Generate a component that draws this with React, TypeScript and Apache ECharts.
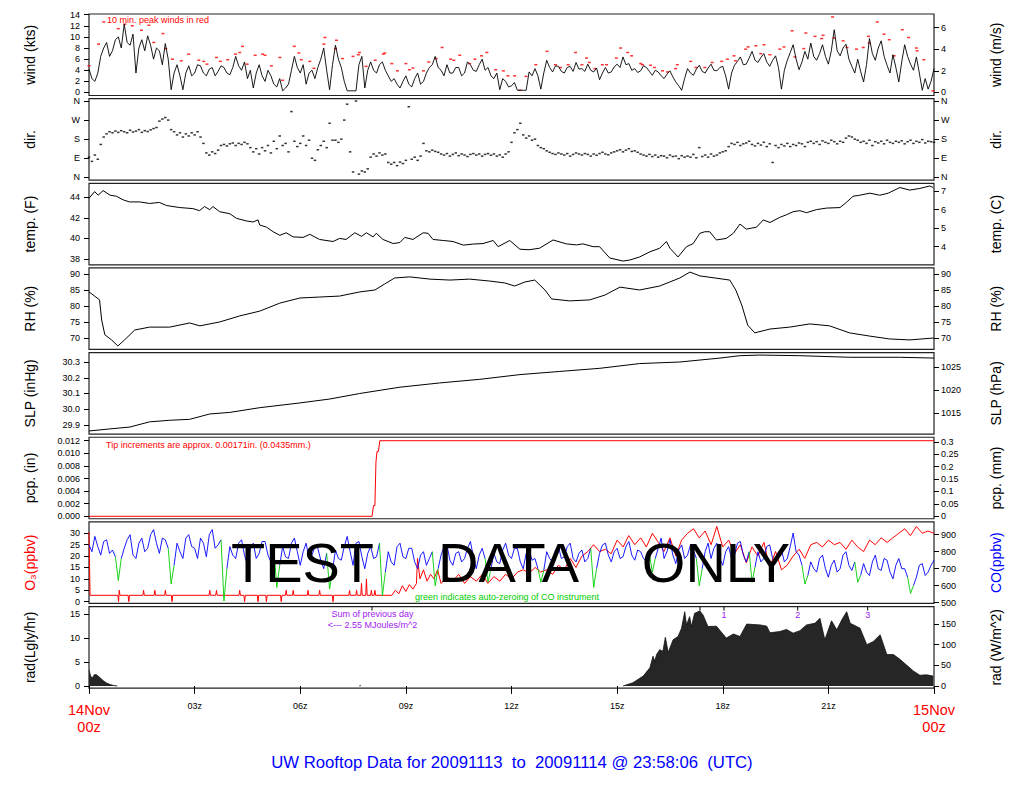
import React, { useEffect, useRef } from "react";
import * as echarts from "echarts";

const FONT = '"Liberation Sans", Arial, Helvetica, sans-serif';

// ---- x axis (hours since 14Nov 00z) ----
const hourTicks = [0, 3, 6, 9, 12, 15, 18, 21, 24];
const startDayLabel = "14Nov";
const endDayLabel = "15Nov";

// ---- wind speed (kts), 5-minute samples from 00z (12 per hour) ----
const windKts = [
  4.2, 2.5, 2.0, 3.5, 6.5, 8.0, 9.0, 6.5, 7.5, 9.5, 10.0, 8.0,
  12.3, 9.0, 8.5, 10.5, 3.5, 8.0, 9.5, 7.5, 10.2, 8.5, 6.0, 8.0,
  7.5, 5.0, 8.8, 6.0, 0.5, 3.5, 5.0, 3.0, 0.5, 3.5, 4.8, 3.0,
  3.5, 5.0, 4.8, 3.5, 3.0, 4.2, 4.5, 3.0, 3.8, 4.8, 4.5, 3.5,
  3.2, 4.5, 6.5, 4.8, 4.0, 5.5, 2.5, 4.0, 0.8, 3.5, 5.0, 3.0,
  2.0, 4.0, 3.0, 1.5, 1.0, 2.5, 0.3, 0.8, 1.5, 4.0, 6.5, 4.5,
  3.5, 5.0, 1.5, 3.5, 4.0, 2.5, 4.5, 6.0, 8.0, 4.0, 0.5, 5.0,
  8.5, 6.0, 4.5, 2.0, 0.3, 0.3, 0.3, 0.3, 5.0, 6.5, 0.8, 4.0,
  5.5, 4.0, 3.5, 5.0, 5.5, 4.0, 3.0, 2.0, 2.5, 1.5, 0.8, 2.0,
  3.0, 1.5, 1.0, 2.5, 3.5, 1.5, 2.0, 3.5, 4.5, 5.0, 6.5, 4.5,
  4.0, 3.0, 5.0, 3.5, 3.5, 4.5, 4.5, 3.0, 3.5, 5.5, 5.0, 4.0,
  3.8, 5.0, 6.0, 4.0, 4.5, 3.0, 2.5, 3.5, 0.5, 2.5, 2.0, 1.0,
  1.2, 1.8, 0.4, 0.4, 0.4, 0.4, 3.7, 3.0, 4.3, 3.0, 0.6, 3.5,
  5.8, 4.5, 3.7, 4.8, 4.7, 3.8, 3.5, 4.5, 4.7, 3.8, 5.4, 4.2,
  4.3, 3.8, 5.1, 4.0, 3.7, 4.4, 2.3, 3.5, 4.5, 3.5, 3.7, 4.6,
  5.1, 4.5, 6.4, 5.0, 5.2, 4.0, 4.3, 3.6, 3.9, 4.8, 4.5, 3.8,
  3.1, 4.0, 3.7, 3.0, 2.5, 3.3, 3.9, 2.8, 1.9, 1.2, 0.4, 2.5,
  4.3, 3.5, 3.1, 4.2, 4.9, 3.8, 3.5, 4.4, 5.1, 4.0, 3.9, 4.5,
  4.7, 3.0, 0.6, 3.5, 4.9, 5.6, 6.4, 5.0, 5.1, 6.2, 7.4, 5.8,
  5.4, 6.3, 7.0, 5.5, 4.7, 5.8, 6.6, 4.5, 0.6, 4.0, 5.8, 7.2,
  8.6, 6.0, 4.1, 5.5, 7.4, 6.0, 8.9, 6.5, 5.8, 7.0, 8.6, 6.5,
  5.1, 7.5, 11.3, 7.5, 6.6, 8.0, 8.7, 6.0, 4.7, 3.5, 6.0, 3.8,
  1.9, 5.0, 9.7, 7.0, 5.8, 8.0, 9.3, 6.5, 4.9, 3.5, 6.8, 4.5,
  1.9, 5.5, 8.6, 6.5, 5.1, 4.0, 6.4, 3.5, 0.4, 2.5, 0.6, 2.0,
  4.3,
];

// ---- 10 min peak winds (red dashes) ----
const peakHours = [
  0.0, 0.27, 0.42, 0.83, 1.02, 1.23, 1.49, 1.70, 1.84, 2.1, 2.18, 2.37, 2.62, 2.83, 3.12, 3.26, 3.35,
  3.62, 3.73, 3.94, 4.16, 4.28, 4.36, 4.49, 4.72, 4.93, 5.0, 5.18, 5.42, 5.5, 5.83, 5.96, 6.03, 6.27,
  6.39, 6.67, 6.7, 7.0, 7.03, 7.2, 7.5, 7.65, 7.68, 7.87, 8.13, 8.36, 8.4, 8.6, 8.76, 9.0, 9.1, 9.2,
  9.5, 9.65, 9.86, 10.03, 10.27, 10.36, 10.53, 10.81, 10.96, 11.15, 11.3, 11.55, 11.77, 11.9, 12.09,
  12.24, 12.41, 12.69, 13.01, 13.25, 13.39, 13.61, 13.82, 14.0, 14.13, 14.21, 14.37, 14.58, 14.7,
  14.98, 15.1, 15.3, 15.41, 15.67, 15.72, 15.95, 16.06, 16.29, 16.43, 16.66, 16.71, 17.09, 17.24,
  17.49, 17.7, 17.97, 18.13, 18.32, 18.36, 18.65, 18.72, 18.94, 19.08, 19.17, 19.34, 19.62, 19.74,
  19.97, 20.05, 20.3, 20.36, 20.62, 20.81, 20.85, 21.12, 21.16, 21.42, 21.53, 21.8, 21.99, 22.14,
  22.16, 22.39, 22.58, 22.73, 22.87, 23.1, 23.28, 23.5, 23.52, 23.71, 23.97,
];
const peakKts = [
  4.8, 8.7, 12.7, 11.5, 12.3, 12.0, 11.2, 12.1, 9.0, 10.6, 7.9, 6.0, 5.7, 6.9, 5.8, 5.6, 5.1,
  6.3, 5.6, 5.9, 6.9, 7.2, 8.3, 5.1, 6.7, 6.9, 6.7, 4.8, 6.3, 2.2, 8.3, 7.1, 5.9, 5.6,
  4.35, 8.7, 9.9, 7.9, 9.4, 6.1, 6.5, 6.8, 7.2, 4.7, 5.8, 6.9, 7.1, 5.2, 3.9, 5.2, 4.1, 4.4,
  3.9, 5.5, 6.1, 8.1, 6.0, 5.8, 6.7, 5.2, 6.0, 6.6, 7.2, 4.1, 3.9, 3.0, 3.0,
  0.4, 2.9, 5.0, 7.4, 5.0, 4.5, 5.0, 7.2, 5.0, 6.2, 5.4, 4.3, 5.0, 5.0,
  6.2, 8.0, 7.2, 6.6, 5.2, 5.0, 4.9, 4.5, 3.9, 3.7, 4.3, 5.0, 5.6, 4.5,
  4.5, 5.4, 5.6, 6.0, 6.6, 5.7, 7.8, 8.2, 8.4, 7.0, 8.6, 6.8, 7.8, 8.2,
  11.1, 6.4, 7.9, 10.7, 10.1, 9.7, 10.3, 13.6, 9.8, 9.3, 8.1, 7.8, 8.1, 10.1,
  8.9, 12.7, 10.5, 9.5, 6.6, 11.3, 9.9, 8.0, 7.5, 5.9, 0.3,
];

// ---- wind direction (deg, 0=N 90=E 180=S 270=W), 5-minute samples ----
const dirDeg = [
  95, 75, 105, 85, 155, 190, 205, 215, 210, 218, 212, 220,
  215, 210, 222, 214, 218, 225, 212, 220, 216, 224, 230, 235,
  265, 275, 282, 270, 225, 215, 200, 210, 190, 205, 195, 210,
  200, 215, 190, 160, 115, 105, 120, 112, 128, 150, 155, 148,
  158, 162, 150, 160, 155, 165, 158, 140, 120, 135, 110, 140,
  125, 150, 115, 170, 135, 195, 150, 160, 120, 310, 170, 145,
  160, 195, 150, 175, 90, 80, 130, 150, 170, 140, 255, 175,
  175, 165, 180, 270, 345, 120, 25, 360, 15, 30, 25, 40,
  95, 110, 100, 115, 105, 110, 70, 62, 70, 55, 72, 65,
  80, 333, 85, 95, 80, 100, 160, 125, 120, 128, 122, 118,
  110, 105, 112, 100, 108, 115, 102, 110, 105, 98, 108, 112,
  105, 110, 100, 108, 112, 104, 110, 100, 106, 95, 110, 120,
  165, 210, 225, 255, 200, 185, 195, 175, 180, 150, 140, 135,
  125, 118, 112, 108, 115, 110, 105, 112, 100, 108, 115, 110,
  105, 112, 108, 100, 110, 104, 112, 118, 110, 106, 115, 120,
  125, 130, 120, 128, 135, 122, 125, 118, 110, 105, 100, 108,
  98, 105, 95, 102, 100, 92, 105, 98, 100, 88, 102, 95,
  100, 95, 108, 92, 140, 98, 105, 95, 110, 100, 105, 115,
  120, 125, 145, 160, 155, 165, 150, 158, 162, 170, 155, 148,
  160, 152, 165, 145, 158, 70, 150, 140, 155, 148, 160, 145,
  155, 150, 162, 158, 145, 165, 170, 160, 168, 155, 172, 165,
  160, 175, 168, 158, 170, 165, 185, 195, 190, 180, 175, 165,
  170, 160, 175, 150, 168, 162, 170, 158, 175, 165, 160, 170,
  165, 172, 158, 168, 175, 160, 170, 165, 178, 162, 170, 168,
  165,
];
const dirTickLabels = ["N", "E", "S", "W", "N"];

// ---- temperature (F) ----
const tempHours = [
  0, 0.16, 0.26, 0.4, 0.6, 0.78, 0.97, 1.15, 1.44, 1.72, 2.0, 2.2, 2.58, 2.95, 3.14, 3.28, 3.43, 3.52,
  3.71, 4.0, 4.19, 4.47, 4.66, 4.8, 4.85, 5.04, 5.23, 5.42, 5.6, 5.8, 6.08, 6.27, 6.55, 6.93, 7.12,
  7.3, 7.55, 7.74, 7.88, 8.07, 8.16, 8.35, 8.64, 8.83, 8.97, 9.2, 9.49, 9.63, 9.77, 10.06, 10.34,
  10.63, 10.9, 11.19, 11.48, 11.62, 11.95, 12.24, 12.5, 12.8, 13.18, 13.56, 13.85, 14.03, 14.32,
  14.5, 14.79, 15.17, 15.36, 15.64, 15.93, 16.21, 16.4, 16.5, 16.73, 16.97, 17.16, 17.35, 17.49,
  17.63, 17.82, 18.1, 18.3, 18.49, 18.67, 18.96, 19.15, 19.34, 19.62, 19.81, 20.0, 20.19, 20.38,
  20.66, 20.95, 21.33, 21.51, 21.7, 21.89, 22.18, 22.46, 22.7, 23.03, 23.31, 23.6, 23.88, 23.97,
];
const tempF = [
  43.9, 44.55, 44.2, 44.65, 44.2, 44.1, 43.75, 43.55, 43.55, 43.4, 43.5, 43.2, 43.0, 42.9, 42.7, 43.1, 42.8, 43.1,
  42.6, 42.4, 41.95, 41.7, 41.6, 41.8, 41.3, 41.1, 40.65, 40.3, 40.55, 40.15, 40.1, 40.4, 39.9, 39.7, 40.0,
  39.9, 40.55, 40.2, 40.55, 40.15, 40.5, 39.9, 39.5, 39.6, 40.1, 39.9, 40.55, 40.5, 39.9, 39.8, 39.7,
  39.35, 39.45, 39.5, 39.8, 39.2, 39.8, 38.95, 38.9, 39.05, 39.85, 39.47, 39.37, 39.47, 39.2,
  39.2, 38.1, 37.8, 37.9, 38.2, 38.7, 39.05, 39.7, 39.05, 38.2, 39.2, 39.5, 40.5, 40.65,
  40.65, 39.85, 40.0, 40.5, 41.4, 40.9, 41.1, 41.8, 41.55, 42.05, 42.3, 42.6, 42.7, 42.5,
  42.8, 42.95, 43.0, 43.5, 44.1, 44.2, 44.4, 44.2, 44.4, 44.95, 44.7, 44.86, 45.1, 44.95,
];

// ---- relative humidity (%) ----
const rhHours = [
  0, 0.16, 0.3, 0.36, 0.45, 0.64, 0.82, 1.01, 1.3, 1.72, 2.29, 2.86, 3.15, 3.71, 4.28, 4.85, 5.42, 5.99,
  6.55, 7.12, 7.69, 8.12, 8.4, 8.68, 9.11, 9.68, 10.25, 10.81, 11.38, 11.81, 12.09, 12.38, 12.66, 12.95,
  13.14, 13.65, 14.22, 14.65, 15.08, 15.64, 16.21, 16.78, 17.07, 17.35, 17.78, 18.2, 18.37, 18.54, 18.71,
  18.91, 19.34, 19.9, 20.47, 21.03, 21.6, 22.17, 22.74, 23.31, 24,
];
const rhPct = [
  84.4, 83.1, 81.9, 75.6, 71, 69.4, 67.5, 69.4, 72.5, 73.4, 73.4, 74.7, 73.8, 75, 76.9, 78.4, 80.9, 82.5,
  82.8, 83.1, 84.4, 85, 86.9, 88.75, 89.1, 88.4, 88.1, 88.4, 87.8, 87.2, 86.25, 87.5, 88.1, 85,
  82.2, 81.6, 81.9, 83.4, 85.9, 85, 86.25, 88.75, 90.6, 89.4, 88.75, 88.1, 85, 80.3, 74,
  71.6, 72.8, 73.4, 74.4, 73.8, 71.6, 70.6, 69.7, 69.4, 70,
];

// ---- sea level pressure (inHg) ----
const slpHours = [0, 0.59, 1.16, 1.72, 2.29, 2.86, 3.43, 4.0, 4.85, 5.99, 6.84, 7.69, 8.83, 9.96, 11.1, 12.24, 13.37, 14.51, 15.64, 16.78, 17.92, 18.48, 19.05, 20.19, 21.6, 23.02, 24];
const slpInHg = [29.862, 29.875, 29.887, 29.92, 29.93, 29.936, 29.97, 29.98, 30.01, 30.04, 30.065, 30.1, 30.14, 30.167, 30.19, 30.22, 30.24, 30.26, 30.29, 30.3, 30.325, 30.34, 30.344, 30.34, 30.33, 30.33, 30.325];

// ---- precipitation (in, accumulated) ----
const pcpHours = [0, 8.04, 8.08, 8.12, 8.15, 8.18, 8.22, 8.26, 24];
const pcpIn = [0, 0, 0.0017, 0.0017, 0.0086, 0.0103, 0.0103, 0.012, 0.012];

// ---- ozone (ppbv) ----
const o3Hours = [
  0, 0.03, 0.82, 0.84, 0.86, 0.88, 1.11, 1.13, 1.15, 1.53, 1.55, 1.57, 1.85, 1.87, 1.89, 2.15, 2.17, 2.19,
  2.34, 2.36, 2.38, 3.41, 3.43, 3.45, 3.6, 3.62, 3.64, 4.26, 4.28, 4.3, 4.4, 4.42, 4.44, 4.78, 4.8, 4.82,
  5.02, 5.04, 5.06, 5.44, 5.46, 5.48, 5.58, 5.6, 5.62, 5.78, 5.8, 5.82, 6.2, 6.22, 6.24, 6.53, 6.55, 6.57,
  6.91, 6.93, 6.95, 7.38, 7.4, 7.42, 7.58, 7.6, 7.62, 7.72, 7.74, 7.76, 7.86, 7.88, 7.9, 8.0, 8.02, 8.04,
  8.1, 8.12, 8.14, 8.6, 8.7, 8.8, 8.9, 9.0, 9.1, 9.2, 9.3, 9.33, 9.4, 9.5, 9.6, 9.7, 9.8, 9.9, 10.0,
  10.17, 10.33, 10.5, 10.67, 10.83, 11.0, 11.17, 11.33, 11.5, 11.67, 11.83, 12.0, 12.17, 12.33, 12.5,
  12.67, 12.83, 13.0, 13.17, 13.33, 13.5, 13.67, 13.83, 14.0, 14.17, 14.33, 14.5, 14.67, 14.83, 15.0,
  15.17, 15.33, 15.5, 15.67, 15.83, 16.0, 16.17, 16.33, 16.5, 16.67, 16.83, 17.0, 17.17, 17.33, 17.5,
  17.67, 17.83, 18.0, 18.17, 18.33, 18.5, 18.67, 18.83, 19.0, 19.17, 19.33, 19.5, 19.67, 19.83, 20.0,
  20.17, 20.33, 20.5, 20.67, 20.83, 21.0, 21.17, 21.33, 21.5, 21.67, 21.83, 22.0, 22.17, 22.33, 22.5,
  22.67, 22.83, 23.0, 23.17, 23.33, 23.5, 23.67, 23.83, 24.0,
];
const o3Ppbv = [
  30.5, 2.8, 2.8, 0, 5, 2.8, 2.8, 0, 2.8, 2.8, 5, 2.8, 2.8, 5, 2.8, 2.8, 5, 2.8,
  2.8, 0, 2.8, 2.8, 5, 2.8, 2.8, 5, 2.8, 2.8, 5, 2.8, 2.8, 0, 2.8, 2.8, 0, 2.8,
  2.8, 0, 2.8, 2.8, 0, 2.8, 2.8, 5, 2.8, 2.8, 5, 2.8, 2.8, 5, 2.8, 2.8, 5, 2.8,
  2.8, 0, 2.8, 2.8, 5, 2.8, 2.8, 5, 2.8, 2.8, 8, 2.8, 2.8, 10, 2.8, 2.8, 5, 2.8,
  2.8, 5, 2.8, 2.8, 5, 3.5, 7, 4.5, 7.5, 5.5, 8, 19, 10, 14, 9, 12, 10, 14, 8,
  11, 9, 12, 8, 11, 9, 12, 8, 11, 9, 12, 10, 13, 14, 12.5,
  15, 13, 14, 12, 16, 14, 19, 15, 20, 22, 25, 22, 23, 21, 27,
  24, 29, 25, 28, 24, 30, 26, 22, 28, 20, 27, 30, 32, 28, 31,
  25, 33, 24, 27, 21, 25, 17, 24, 20, 26, 15, 22, 14, 16, 20,
  23, 19, 25, 26, 24, 27, 25, 26, 23, 27, 24, 22, 27, 25, 28,
  26, 28, 30, 32, 29, 33, 30, 31, 30,
];

// ---- carbon monoxide (ppbv), 5-minute samples (12 per hour) ----
const coPpbv = [
  840, 800, 890, 830, 780, 860, 870, 790, 810, 770, 630, 760,
  820, 870, 900, 780, 760, 850, 880, 800, 820, 900, 930, 850,
  790, 880, 870, 820, 610, 720, 850, 800, 760, 880, 900, 830,
  820, 760, 880, 850, 770, 900, 930, 820, 840, 870, 510, 700,
  830, 780, 760, 850, 870, 780, 720, 820, 850, 760, 790, 860,
  860, 780, 740, 820, 590, 720, 830, 770, 760, 850, 880, 800,
  720, 800, 850, 760, 780, 830, 820, 750, 700, 790, 580, 690,
  810, 760, 750, 830, 890, 800, 720, 850, 860, 770, 700, 790,
  830, 760, 770, 850, 540, 680, 800, 740, 720, 830, 850, 770,
  760, 820, 820, 740, 700, 780, 800, 720, 760, 800, 600, 700,
  780, 830, 840, 750, 720, 790, 800, 740, 760, 820, 860, 770,
  700, 780, 820, 760, 620, 700, 790, 740, 730, 810, 850, 780,
  760, 820, 820, 740, 700, 790, 810, 750, 760, 700, 620, 690,
  800, 760, 740, 810, 830, 760, 770, 830, 850, 760, 740, 790,
  810, 740, 760, 820, 590, 700, 790, 840, 850, 780, 740, 800,
  820, 760, 770, 830, 860, 780, 750, 810, 800, 760, 740, 790,
  680, 760, 820, 880, 760, 800, 870, 780, 730, 810, 840, 760,
  780, 840, 810, 760, 600, 700, 800, 850, 760, 820, 850, 760,
  720, 800, 830, 760, 780, 850, 860, 780, 740, 800, 620, 710,
  800, 740, 760, 830, 840, 760, 730, 800, 810, 740, 760, 830,
  910, 800, 780, 720, 610, 660, 740, 700, 680, 760, 780, 700,
  650, 720, 750, 680, 700, 780, 800, 720, 690, 740, 620, 660,
  730, 680, 660, 740, 780, 700, 690, 760, 750, 680, 640, 720,
  760, 700, 700, 650, 555, 600, 650, 720, 730, 660, 680, 720,
  750,
];
const coZeroHours = [0.83, 2.33, 3.83, 5.33, 6.83, 8.33, 9.83, 11.33, 12.83, 14.33, 16.0, 17.33, 18.83, 20.33, 21.83, 23.33];

// ---- solar radiation (W/m^2) ----
const radHours = [
  0, 0.05, 0.1, 0.15, 0.2, 0.3, 0.4, 0.5, 0.6, 0.7, 0.8, 7.68, 7.7, 7.72, 15.17, 15.45, 15.74, 15.93,
  16.02, 16.07, 16.12, 16.21, 16.3, 16.37, 16.45, 16.59, 16.73, 16.83, 16.92, 16.97, 17.06, 17.11, 17.2,
  17.35, 17.44, 17.58, 17.82, 18.1, 18.3, 18.49, 18.68, 19.06, 19.25, 19.34, 19.62, 19.81, 20.0, 20.19,
  20.38, 20.62, 20.76, 20.9, 21.09, 21.24, 21.38, 21.52, 21.62, 21.9, 22.09, 22.28, 22.47, 22.66, 22.85,
  23.04, 23.42, 23.6, 23.79, 23.98,
];
const radWm2 = [
  38, 23, 20, 27, 28, 21, 13, 7, 3.5, 1.2, 0, 0, 1.5, 0, 0, 8, 24, 44,
  72, 60, 76, 88, 84, 118, 81, 112, 120, 140, 180, 148, 168, 144, 176,
  182, 172, 144, 145, 116, 126, 120, 150, 148, 145, 129, 132, 137, 128, 134,
  148, 152, 164, 112, 158, 136, 160, 180, 152, 140, 100, 108, 124, 76, 76,
  64, 36, 26, 27, 24,
];

const pairs = (xs: number[], ys: number[]) => xs.map((x, i) => [x, ys[i]]);

const PANEL_H = 81.5;
const PANEL_STEP = 84.65;
const panels = [0, 1, 2, 3, 4, 5, 6, 7].map((i) => ({ top: 14 + PANEL_STEP * i, height: PANEL_H }));

function yAxis(
  gridIndex: number,
  position: "left" | "right",
  min: number,
  max: number,
  ticks: number[],
  name: string,
  nameColor: string,
  formatter?: (v: number) => string
) {
  return {
    type: "value",
    gridIndex,
    position,
    min,
    max,
    name,
    nameLocation: "middle",
    nameRotate: 90,
    nameGap: position === "left" ? 59 : 62,
    nameTextStyle: { fontSize: 14, color: nameColor, fontFamily: FONT, align: "center", verticalAlign: "middle" },
    axisLine: { show: false },
    splitLine: { show: false },
    axisTick: { show: true, length: 5, customValues: ticks, lineStyle: { color: "#000", width: 1 } },
    axisLabel: {
      customValues: ticks,
      fontSize: 9,
      color: "#000",
      fontFamily: FONT,
      margin: position === "left" ? 9 : 7,
      formatter: formatter ? (v: number) => formatter(v) : (v: number) => String(v),
    },
  };
}

export default function App() {
  const ref = useRef<HTMLDivElement>(null);
  useEffect(() => {
    if (!ref.current) return;
    const chart = echarts.init(ref.current, undefined, { renderer: "svg" });

    const dirFmt = (v: number) => dirTickLabels[Math.round(v / 90)];
    const fix = (n: number) => (v: number) => v.toFixed(n);

    const yAxes = [
      yAxis(0, "left", -0.54, 14.126, [0, 2, 4, 6, 8, 10, 12, 14], "wind (kts)", "#000"),
      yAxis(0, "right", -0.278, 7.267, [0, 2, 4, 6], "wind (m/s)", "#000"),
      yAxis(1, "left", -13.45, 371.1, [0, 90, 180, 270, 360], "dir.", "#000", dirFmt),
      yAxis(1, "right", -13.45, 371.1, [0, 90, 180, 270, 360], "dir.", "#000", dirFmt),
      yAxis(2, "left", 37.436, 45.36, [38, 40, 42, 44], "temp. (F)", "#000"),
      yAxis(2, "right", 3.02, 7.422, [3, 4, 5, 6, 7], "temp. (C)", "#000"),
      yAxis(3, "left", 66.42, 91.89, [70, 75, 80, 85, 90], "RH (%)", "#000"),
      yAxis(3, "right", 66.42, 91.89, [70, 75, 80, 85, 90], "RH (%)", "#000"),
      yAxis(4, "left", 29.8422, 30.3597, [29.9, 30.0, 30.1, 30.2, 30.3], "SLP (inHg)", "#000", fix(1)),
      yAxis(4, "right", 1010.56, 1028.07, [1015, 1020, 1025], "SLP (hPa)", "#000"),
      yAxis(5, "left", -0.000389, 0.012548, [0, 0.002, 0.004, 0.006, 0.008, 0.01, 0.012], "pcp. (in)", "#000", fix(3)),
      yAxis(5, "right", -0.00988, 0.31872, [0, 0.05, 0.1, 0.15, 0.2, 0.25, 0.3], "pcp. (mm)", "#000"),
      yAxis(6, "left", -0.75, 35.0, [0, 5, 10, 15, 20, 25, 30], "O\u2083(ppbv)", "#ff0000"),
      yAxis(6, "right", 495.9, 975.3, [500, 600, 700, 800, 900], "CO(ppbv)", "#0000ff"),
      yAxis(7, "left", -0.43, 16.55, [0, 5, 10, 15], "rad(Lgly/hr)", "#000"),
      yAxis(7, "right", -5.0, 192.5, [0, 50, 100, 150], "rad (W/m^2)", "#000"),
    ];

    const xAxes = panels.map((_, i) =>
      i < 7
        ? { type: "value", gridIndex: i, min: 0, max: 24, show: false }
        : {
            type: "value",
            gridIndex: i,
            min: 0,
            max: 24,
            interval: 3,
            axisLine: { show: false },
            splitLine: { show: false },
            axisTick: { show: true, length: 8, customValues: hourTicks, lineStyle: { color: "#000" } },
            axisLabel: {
              customValues: hourTicks,
              fontSize: 9,
              color: "#000",
              fontFamily: FONT,
              margin: 13,
              formatter: (v: number) =>
                v === 0
                  ? `{d|${startDayLabel}}\n{d|00z}`
                  : v === 24
                  ? `{d|${endDayLabel}}\n{d|00z}`
                  : `${String(v).padStart(2, "0")}z`,
              rich: { d: { color: "#ff0000", fontSize: 14.5, lineHeight: 17, fontFamily: FONT } },
            },
          }
    );

    const zeroIdx = new Set(coZeroHours.map((h) => Math.round(h * 12)));
    const coBlue = coPpbv.map((v, i) => [i / 12, zeroIdx.has(i) ? "-" : v]);
    const coGreen: any[] = [];
    Array.from(zeroIdx).forEach((k) => {
      for (let j = k - 1; j <= k + 1; j++) {
        if (j >= 0 && j < coPpbv.length) coGreen.push([j / 12, coPpbv[j]]);
      }
      coGreen.push([(k + 1.5) / 12, "-"]);
    });

    // radiation: break the outline across night-time runs of zero
    const radData: any[] = [];
    radHours.forEach((h, i) => {
      radData.push([h, radWm2[i]]);
      if (i < radHours.length - 1 && radWm2[i] === 0 && radWm2[i + 1] === 0) {
        radData.push([(h + radHours[i + 1]) / 2, "-"]);
      }
    });

    const line = (x: number, y: number, data: any[], color: string, width = 1) => ({
      type: "line",
      xAxisIndex: x,
      yAxisIndex: y,
      data,
      symbol: "none",
      silent: true,
      lineStyle: { color, width },
    });

    const purple = "#a020f0";
    const txt = (text: string, x: number, y: number, fill: string, fontSize: number, align = "left") => ({
      type: "text",
      x,
      y,
      z: 100,
      silent: true,
      style: { text, fill, fontSize, fontFamily: FONT, align, verticalAlign: "middle" },
    });
    const radTop = panels[7].top;
    const tickMark = (x: number) => ({
      type: "line",
      z: 100,
      silent: true,
      shape: { x1: x, y1: radTop, x2: x, y2: radTop + 4 },
      style: { stroke: "#000", lineWidth: 1 },
    });

    chart.setOption({
      animation: false,
      backgroundColor: "#fff",
      grid: panels.map((p) => ({
        left: 89,
        width: 845,
        top: p.top,
        height: p.height,
        show: true,
        borderColor: "#222",
        borderWidth: 1.2,
        outerBoundsMode: "none",
      })),
      xAxis: xAxes,
      yAxis: yAxes,
      series: [
        line(0, 0, windKts.map((v, i) => [i / 12, v]), "#000", 0.9),
        {
          type: "scatter",
          xAxisIndex: 0,
          yAxisIndex: 0,
          data: pairs(peakHours, peakKts),
          symbol: "rect",
          symbolSize: [3, 1.5],
          itemStyle: { color: "#ff0000" },
          silent: true,
        },
        {
          type: "scatter",
          xAxisIndex: 1,
          yAxisIndex: 2,
          data: dirDeg.map((v, i) => [i / 12, v]),
          symbol: "rect",
          symbolSize: [2.5, 1.5],
          itemStyle: { color: "#000" },
          silent: true,
        },
        line(2, 4, pairs(tempHours, tempF), "#000"),
        line(3, 6, pairs(rhHours, rhPct), "#000"),
        line(4, 8, pairs(slpHours, slpInHg), "#000"),
        line(5, 10, pairs(pcpHours, pcpIn), "#ff0000"),
        line(6, 12, pairs(o3Hours, o3Ppbv), "#ff0000"),
        line(6, 13, coBlue, "#0000ff", 0.9),
        line(6, 13, coGreen, "#00cd00", 0.9),
        {
          ...line(7, 15, radData, "#111", 0.8),
          connectNulls: false,
          areaStyle: { color: "#262626", opacity: 1 },
        },
      ],
      graphic: [
        txt("10 min. peak winds in red", 107, 20, "#ff0000", 9),
        txt("Tip increments are approx. 0.00171in. (0.0435mm.)", 106, 444.5, "#ff0000", 9),
        txt("green indicates auto-zeroing of CO instrument", 415, 597, "#00cd00", 9),
        txt("Sum of previous day", 372.5, 614, purple, 9, "center"),
        txt("<--- 2.55 MJoules/m^2", 372.5, 625, purple, 9, "center"),
        txt("1", 724, 614.5, purple, 9, "center"),
        txt("2", 797.7, 614.5, purple, 9, "center"),
        txt("3", 867.7, 614.5, purple, 9, "center"),
        tickMark(372),
        tickMark(700),
        tickMark(724),
        tickMark(797.7),
        tickMark(867.7),
        txt("TEST", 302.5, 562, "#000", 56, "center"),
        txt("DATA", 508.5, 562, "#000", 56, "center"),
        txt("ONLY", 716, 562, "#000", 56, "center"),
        txt("UW Rooftop Data for 20091113  to  20091114 @ 23:58:06  (UTC)", 512, 762, "#0000ff", 16.7, "center"),
      ],
    });
    return () => chart.dispose();
  }, []);

  return (
    <div
      ref={ref}
      style={{ position: "absolute", left: 0, top: 0, width: 1024, height: 800, background: "#fff" }}
    />
  );
}
